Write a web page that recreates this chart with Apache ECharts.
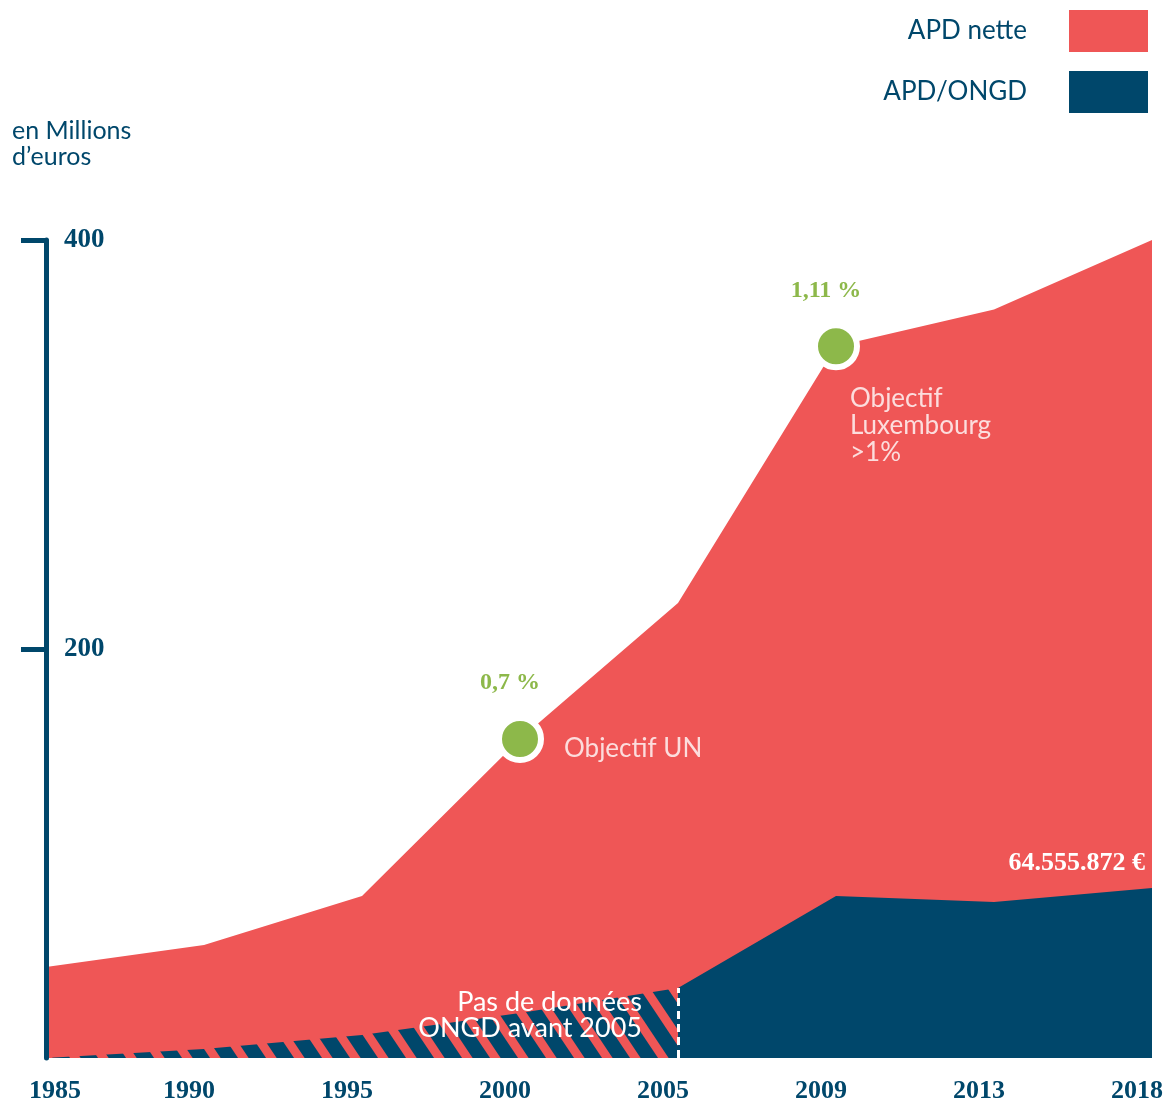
<!DOCTYPE html>
<html>
<head>
<meta charset="utf-8">
<script src="https://cdn.jsdelivr.net/npm/echarts@6/dist/echarts.min.js"></script>
<style>
  html, body { margin: 0; padding: 0; background: #fff; }
  #chart { width: 1167px; height: 1102px; }
</style>
</head>
<body>
<div id="chart"></div>
<script>
// APD nette / APD ONGD, en millions d'euros
var years = ['1985', '1990', '1995', '2000', '2005', '2009', '2013', '2018'];
var apdNette = [44.5, 55.3, 79.2, 156, 222.5, 348, 366, 400];
var apdOngdAvant = [0, 4.4, 11.2, 22, 34.2, null, null, null];
var apdOngd = [null, null, null, null, 34.2, 79.2, 76.3, 83.1];
var yTicks = [200, 400];

var goalYears = ['2000', '2009'];
var goalValues = [156, 348];
var goalRates = ['0,7 %', '1,11 %'];
var goalTexts = ['Objectif UN', 'Objectif\nLuxembourg\n>1%'];

var RED = '#ef5656';
var BLUE = '#00476b';
var GREEN = '#8db84a';
var SANS = 'Lato';
var SERIF = 'Liberation Serif';

// hachures bleues (pas de données ONGD avant 2005)
function stripes() {
	var w = 28, h = 42;
	var c = document.createElement('canvas');
	c.width = w; c.height = h;
	var g = c.getContext('2d');
	g.strokeStyle = BLUE;
	g.lineWidth = 14.5;
	for (var i = -2; i <= 2; i++) {
		g.beginPath();
		g.moveTo(i * w - w, -h);
		g.lineTo(i * w + 2 * w, 2 * h);
		g.stroke();
	}
	return c;
}

var chart = echarts.init(document.getElementById('chart'));

var goalLabels = [
	{ position: [44, 10], align: 'left', verticalAlign: 'middle' },
	{ position: [14, 39], align: 'left', verticalAlign: 'top' }
];

var option = {
	animation: false,
	backgroundColor: '#fff',
	title: {
		text: 'en Millions\nd’euros',
		left: 7, top: 113,
		textStyle: { fontFamily: SANS, fontSize: 25, fontWeight: 'normal', color: BLUE, lineHeight: 26 }
	},
	legend: {
		orient: 'vertical',
		right: 14, top: 5,
		align: 'right',
		icon: 'rect',
		itemWidth: 79, itemHeight: 42, itemGap: 19,
		data: ['APD nette', 'APD/ONGD'],
		textStyle: { fontFamily: SANS, fontSize: 26, color: BLUE, padding: [8, 37, 0, 0] }
	},
	grid: { left: 46, right: 15, top: 240, bottom: 44, outerBoundsMode: 'none' },
	xAxis: {
		type: 'category',
		boundaryGap: false,
		data: years,
		axisLine: { show: false },
		axisTick: { show: false },
		axisLabel: {
			interval: 0,
			margin: 20,
			fontFamily: SERIF, fontWeight: 'bold', fontSize: 26, color: BLUE,
			formatter: function (v, i) { return i === 0 ? '{f|' + v + '}' : '{o|' + v + '}'; },
			rich: {
				f: { padding: [0, 0, 0, 18], fontFamily: SERIF, fontWeight: 'bold', fontSize: 26, color: BLUE },
				o: { padding: [0, 30, 0, 0], fontFamily: SERIF, fontWeight: 'bold', fontSize: 26, color: BLUE }
			}
		}
	},
	yAxis: {
		type: 'value',
		min: 0, max: 400, interval: 200,
		z: 5,
		axisLine: { show: true, lineStyle: { color: BLUE, width: 5 } },
		axisTick: { show: true, customValues: yTicks, length: 25, lineStyle: { color: BLUE, width: 5 } },
		axisLabel: {
			customValues: yTicks, inside: true, margin: 18,
			fontFamily: SERIF, fontWeight: 'bold', fontSize: 27, color: BLUE
		},
		splitLine: { show: false }
	},
	series: [
		{
			name: 'APD nette',
			type: 'line',
			data: apdNette,
			color: RED,
			itemStyle: { color: RED },
			symbol: 'none',
			lineStyle: { width: 0 },
			areaStyle: { color: RED, opacity: 1 },
			z: 1
		},
		{
			name: 'APD/ONGD avant 2005',
			type: 'line',
			data: apdOngdAvant.map(function (v, i) {
				if (i !== 4) return v;
				return {
					value: v,
					label: {
						show: true,
						position: 'left', distance: 36, offset: [0, 27],
						align: 'right',
						formatter: 'Pas de données\nONGD avant 2005',
						fontFamily: SANS, fontSize: 27, lineHeight: 26, color: '#fff'
					}
				};
			}),
			color: BLUE,
			symbol: 'circle', symbolSize: 0,
			lineStyle: { width: 0 },
			areaStyle: { color: { image: stripes(), repeat: 'repeat' }, opacity: 1 },
			markLine: {
				symbol: 'none', silent: true,
				label: { show: false },
				lineStyle: { color: '#fff', type: [8, 5], width: 3 },
				data: [[{ coord: ['2005', 0] }, { coord: ['2005', apdOngdAvant[4]] }]]
			},
			z: 2
		},
		{
			name: 'APD/ONGD',
			type: 'line',
			data: apdOngd.map(function (v, i) {
				if (i !== apdOngd.length - 1) return v;
				return {
					value: v,
					label: {
						show: true,
						position: 'top', distance: 5, offset: [-7, -7],
						align: 'right',
						formatter: '64.555.872 €',
						fontFamily: SERIF, fontWeight: 'bold', fontSize: 26, color: '#fff'
					}
				};
			}),
			color: BLUE,
			itemStyle: { color: BLUE },
			symbol: 'circle', symbolSize: 0,
			lineStyle: { width: 0 },
			areaStyle: { color: BLUE, opacity: 1 },
			z: 3
		},
		{
			name: 'Objectifs',
			type: 'scatter',
			data: goalYears.map(function (y, i) { return { name: goalRates[i], value: [y, goalValues[i]] }; }),
			symbolSize: 42,
			itemStyle: { color: GREEN, borderColor: '#fff', borderWidth: 6, opacity: 1 },
			label: {
				show: true, position: 'top', distance: 20, offset: [-10, 0],
				formatter: '{b}',
				fontFamily: SERIF, fontWeight: 'bold', fontSize: 24, color: GREEN
			},
			z: 6
		},
		{
			name: 'Objectifs texte',
			type: 'scatter',
			data: goalYears.map(function (y, i) {
				var l = goalLabels[i];
				return {
					name: goalTexts[i],
					value: [y, goalValues[i]],
					label: {
						show: true, position: l.position, align: l.align, verticalAlign: l.verticalAlign,
						formatter: '{b}',
						fontFamily: SANS, fontSize: 26, lineHeight: 27, color: '#fff'
					}
				};
			}),
			symbolSize: 0,
			itemStyle: { color: 'rgba(0,0,0,0)' },
			z: 6
		}
	]
};

chart.setOption(option);
</script>
</body>
</html>
